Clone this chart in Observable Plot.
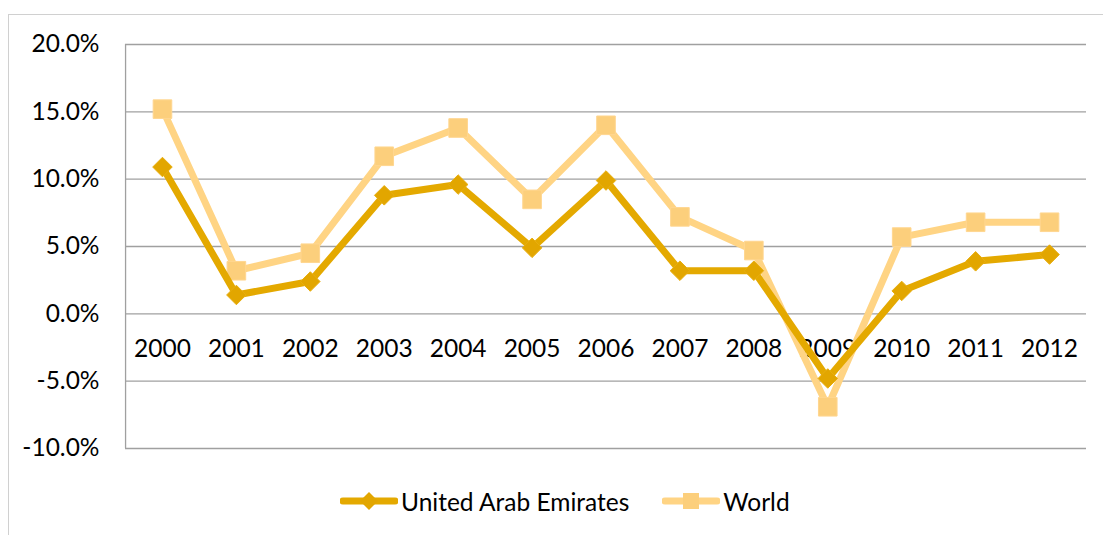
<!DOCTYPE html>
<html>
<head>
<meta charset="utf-8">
<script src="https://cdn.jsdelivr.net/npm/d3@7"></script>
<script src="https://cdn.jsdelivr.net/npm/@observablehq/plot@0.6"></script>
<style>
  html, body { margin: 0; padding: 0; background: #fff; }
  #wrap { position: relative; width: 1103px; height: 535px; overflow: hidden; }
  #frame { position: absolute; left: 8px; top: 14px; width: 1100px; height: 540px; border: 1px solid #d0d0d0; box-sizing: border-box; pointer-events: none; }
  #chart { position: absolute; left: 0; top: 0; }
  #legend { position: absolute; left: 340px; top: 470px; height: 62px; display: flex; align-items: center; font-family: Lato, "Open Sans", sans-serif; font-size: 24.5px; color: #000; }
  .item { display: flex; align-items: center; }
  .item svg { margin-right: 3px; }
</style>
</head>
<body>
<div id="wrap">
  <div id="frame"></div>
  <div id="chart"></div>
  <div id="legend"></div>
</div>
<script>
const years = ["2000","2001","2002","2003","2004","2005","2006","2007","2008","2009","2010","2011","2012"];
const uae   = [10.9, 1.4, 2.4, 8.8, 9.6, 4.9, 9.9, 3.2, 3.2, -4.8, 1.7, 3.9, 4.4];
const world = [15.2, 3.2, 4.5, 11.7, 13.8, 8.5, 14.0, 7.2, 4.7, -6.9, 5.7, 6.8, 6.8];
const yTicks = [-10, -5, 0, 5, 10, 15, 20];
const seriesNames = ["United Arab Emirates", "World"];
const colors = { "United Arab Emirates": "#E4A900", "World": "#FFD484" };
const markFill = { "United Arab Emirates": "#E2A600", "World": "#FCCF7C" };

const rows = [];
years.forEach((y, i) => {
  rows.push({ year: y, value: uae[i] / 100, series: seriesNames[0] });
  rows.push({ year: y, value: world[i] / 100, series: seriesNames[1] });
});
const worldRows = rows.filter(d => d.series === "World");
const uaeRows = rows.filter(d => d.series === "United Arab Emirates");

const font = "Lato, 'Open Sans', sans-serif";
const pct = d => (d * 100).toFixed(1) + "%";

const plot = Plot.plot({
  width: 1103,
  height: 470,
  marginLeft: 125,
  marginRight: 17,
  marginTop: 44,
  marginBottom: 22,
  style: { fontFamily: font, fontSize: "24.5px", color: "#000", background: "transparent" },
  x: { type: "band", domain: years, padding: 0, round: false, axis: null },
  y: { domain: [-0.10, 0.20], ticks: yTicks.map(v => v / 100), tickFormat: pct, tickSize: 0, tickPadding: 26, label: null },
  marks: [
    Plot.gridY(yTicks.map(v => v / 100), { stroke: "#a0a0a0", strokeOpacity: 1, strokeWidth: 1.3 }),
    Plot.ruleX([years[0]], { dx: -36.9, stroke: "#a0a0a0", strokeWidth: 1.3 }),
    Plot.text(years, { x: d => d, y: () => 0, dy: 35, text: d => d, fontSize: 24.5, fill: "#000" }),
    Plot.line(worldRows, { x: "year", y: "value", stroke: colors["World"], strokeWidth: 7, strokeLinejoin: "round" }),
    Plot.dot(worldRows, { x: "year", y: "value", symbol: "square", r: 10.5, fill: markFill["World"], stroke: "#FFD690", strokeWidth: 1 }),
    Plot.line(uaeRows, { x: "year", y: "value", stroke: colors["United Arab Emirates"], strokeWidth: 7, strokeLinejoin: "round" }),
    Plot.dot(uaeRows, { x: "year", y: "value", symbol: "diamond2", r: 8.8, fill: markFill["United Arab Emirates"], stroke: "#E8AE10", strokeWidth: 1 })
  ]
});
document.getElementById("chart").appendChild(plot);

// legend
const legend = document.getElementById("legend");
seriesNames.forEach((name, i) => {
  const item = document.createElement("div");
  item.className = "item";
  if (i === 1) item.style.marginLeft = "33px";
  const ns = "http://www.w3.org/2000/svg";
  const s = document.createElementNS(ns, "svg");
  s.setAttribute("width", 58); s.setAttribute("height", 24);
  const l = document.createElementNS(ns, "line");
  l.setAttribute("x1", 3); l.setAttribute("x2", 55); l.setAttribute("y1", 12); l.setAttribute("y2", 12);
  l.setAttribute("stroke", colors[name]); l.setAttribute("stroke-width", 7); l.setAttribute("stroke-linecap", "round");
  s.appendChild(l);
  if (i === 0) {
    const p = document.createElementNS(ns, "path");
    p.setAttribute("d", "M29,3 L38,12 L29,21 L20,12 Z");
    p.setAttribute("fill", markFill[name]);
    s.appendChild(p);
  } else {
    const r = document.createElementNS(ns, "rect");
    r.setAttribute("x", 21); r.setAttribute("y", 4); r.setAttribute("width", 16); r.setAttribute("height", 16);
    r.setAttribute("fill", markFill[name]);
    s.appendChild(r);
  }
  item.appendChild(s);
  const t = document.createElement("span");
  t.textContent = name;
  item.appendChild(t);
  legend.appendChild(item);
});
</script>
</body>
</html>
